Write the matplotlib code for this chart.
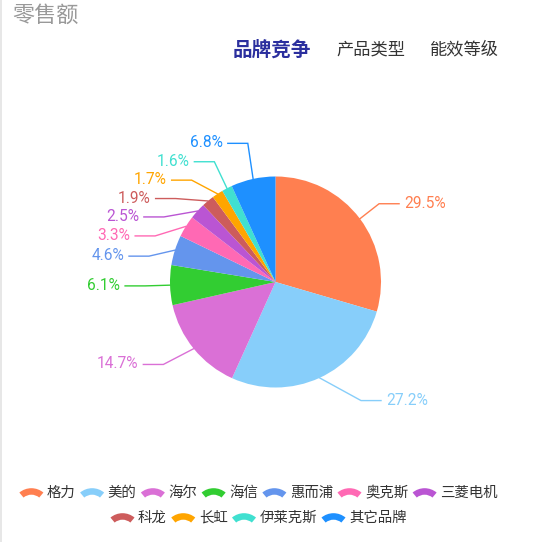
import matplotlib
matplotlib.use("Agg")
import matplotlib.pyplot as plt
from matplotlib.patches import Wedge
import numpy as np

plt.rcParams['font.family'] = ['Noto Sans CJK SC', 'DejaVu Sans']

# ---- data -------------------------------------------------------------
title = '零售额'
tabs = ['品牌竞争', '产品类型', '能效等级']
brands = ['格力', '美的', '海尔', '海信', '惠而浦', '奥克斯', '三菱电机',
          '科龙', '长虹', '伊莱克斯', '其它品牌']
shares = [29.5, 27.2, 14.7, 6.1, 4.6, 3.3, 2.5, 1.9, 1.7, 1.6, 6.8]
colors = ['#ff7f50', '#87cefa', '#da70d6', '#32cd32', '#6495ed', '#ff69b4',
          '#ba55d3', '#cd5c5c', '#ffa500', '#40e0d0', '#1e90ff']

# ---- layout (pixel units, y grows downward) ---------------------------
W, H = 550, 542
CX, CY, R = 275.5, 282.0, 105.5
LEN1, LEN2, GAP = 25.0, 20.0, 5.0
LABEL_H = 18.4
LABEL_FS = 11.2
LEG_FS = 10.4


def _shift_up(lst, end, delta):
    for j in range(end, -1, -1):
        if lst[j]['top'] - delta < 0:
            break
        lst[j]['top'] -= delta
        if j > 0 and lst[j]['top'] > lst[j - 1]['top'] + LABEL_H:
            break


def _shift_down(lst, start, end, delta):
    for j in range(start, end):
        if lst[j]['top'] + delta > H:
            break
        lst[j]['top'] += delta
        if j > start and j + 1 < end and lst[j + 1]['top'] > lst[j]['top'] + LABEL_H:
            _shift_up(lst, j, delta / 2)
            return
    _shift_up(lst, end - 1, delta / 2)


def _adjust_side(lst, side):
    """Spread outer labels vertically, then pull them onto a circle."""
    lst.sort(key=lambda d: d['top'])
    n = len(lst)
    last = 0.0
    for i in range(n):
        d = lst[i]['top'] - last
        if d < 0:
            _shift_down(lst, i, n, -d)
        last = lst[i]['top'] + LABEL_H
    rc = R + LEN1 + LEN2 + GAP
    up = [d for d in lst if d['top'] < CY]
    down = [d for d in lst if d['top'] >= CY]
    for group, is_down in ((up, False), (down, True)):
        last_dx = np.inf if is_down else 0.0
        for d in group:
            dy = abs(d['top'] - CY)
            if dy < R + LEN1:
                dx = np.sqrt(rc ** 2 - dy ** 2)
            else:
                dx = abs(d['tx'] - CX)
            if is_down and dx >= last_dx:
                dx = last_dx - 10
            if not is_down and dx <= last_dx:
                dx = last_dx + 10
            d['tx'] = CX + dx * side
            last_dx = dx


fig = plt.figure(figsize=(W / 100, H / 100), dpi=100)
ax = fig.add_axes([0, 0, 1, 1])
wedges, _ = ax.pie(shares, colors=colors, startangle=-90, counterclock=True,
                   center=(CX, CY), radius=R, wedgeprops=dict(linewidth=0))
ax.set_xlim(0, W)
ax.set_ylim(H, 0)
ax.set_aspect('equal')
ax.axis('off')

# outer labels with leader lines
items = []
for w, s, c in zip(wedges, shares, colors):
    th = np.deg2rad((w.theta1 + w.theta2) / 2)
    ux, uy = np.cos(th), np.sin(th)
    side = 1 if ux >= 0 else -1
    x2 = CX + (R + LEN1) * ux
    y2 = CY + (R + LEN1) * uy
    items.append(dict(x1=CX + R * ux, y1=CY + R * uy, top=y2 - LABEL_H / 2,
                      tx=x2 + side * (LEN2 + GAP), side=side,
                      text=f'{s}%', color=c))

for side in (1, -1):
    _adjust_side([d for d in items if d['side'] == side], side)

for d in items:
    yc = d['top'] + LABEL_H / 2
    x3 = d['tx'] - d['side'] * GAP
    x2 = x3 - d['side'] * LEN2
    ax.plot([d['x1'], x2, x3], [d['y1'], yc, yc], color=d['color'], lw=1.0,
            solid_joinstyle='miter')
    ax.text(d['tx'], yc - 0.5, d['text'], color=d['color'], fontsize=LABEL_FS,
            family=['Roboto', 'DejaVu Sans'], va='center',
            ha='left' if d['side'] > 0 else 'right')

# title and tabs
ax.text(12, 16, title, fontsize=15.9, color='#999999', va='center', ha='left')
ax.text(232.5, 49.5, tabs[0], fontsize=14.1, fontweight='bold',
        color='#2b2f9e', va='center', ha='left')
ax.text(336, 49.5, tabs[1], fontsize=12.4, color='#333333', va='center', ha='left')
ax.text(429.5, 49.5, tabs[2], fontsize=12.4, color='#333333', va='center', ha='left')
ax.plot([0.8, 0.8], [0, H], color='#e3e3e3', lw=1.2)

# legend with fan-shaped icons, wrapped and centred
renderer = fig.canvas.get_renderer()
tw = []
for b in brands:
    t = ax.text(0, 0, b, fontsize=LEG_FS)
    tw.append(t.get_window_extent(renderer).width)
    t.remove()

ICON_W, ICON_PAD, ITEM_GAP, MAX_ROW = 24.0, 3.5, 4.5, 500.0
rows, cur, cur_w = [], [], 0.0
for i, wt in enumerate(tw):
    iw = ICON_W + ICON_PAD + wt
    add = iw if not cur else ITEM_GAP + iw
    if cur and cur_w + add > MAX_ROW:
        rows.append((cur, cur_w))
        cur, cur_w = [i], iw
    else:
        cur.append(i)
        cur_w += add
rows.append((cur, cur_w))

ro, half = 18.7, 40.0
ri = 12.2
for (idx, row_w), ry in zip(rows, (493.0, 518.0)):
    x = 258.5 - row_w / 2
    for i in idx:
        fc = x + ICON_W / 2
        ax.add_patch(Wedge((fc, ry - 4.8 + ro), ro, -90 - half, -90 + half,
                           width=ro - ri, facecolor=colors[i], edgecolor='none'))
        ax.text(x + ICON_W + ICON_PAD, ry, brands[i], fontsize=LEG_FS,
                color='#333333', va='center', ha='left')
        x += ICON_W + ICON_PAD + tw[i] + ITEM_GAP

fig.savefig('out.png', dpi=100)
plt.close(fig)
